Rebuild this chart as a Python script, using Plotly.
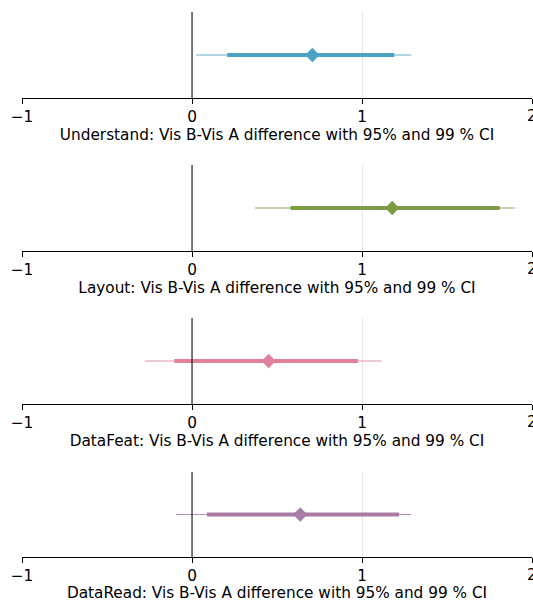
import plotly.graph_objects as go

measures = ["Understand", "Layout", "DataFeat", "DataRead"]
means = [0.708, 1.178, 0.451, 0.637]
ci95_low = [0.207, 0.58, -0.104, 0.088]
ci95_high = [1.19, 1.81, 0.976, 1.218]
ci99_low = [0.024, 0.37, -0.276, -0.094]
ci99_high = [1.29, 1.90, 1.116, 1.288]
colors = ["#4ba3c3", "#7e9c45", "#e0809a", "#a97ba7"]
tick_vals = [-1, 0, 1, 2]
tick_text = ["\u22121", "0", "1", "2"]

W, H = 533, 602
panel_px = [(12, 98), (165, 251), (318, 404), (472, 557)]
FS = 15.3

fig = go.Figure()
for i, m in enumerate(measures):
    n = i + 1
    xa = "x" if n == 1 else f"x{n}"
    ya = "y" if n == 1 else f"y{n}"
    fig.add_trace(go.Scatter(x=[ci99_low[i], ci99_high[i]], y=[0, 0], mode="lines",
                             line=dict(color=colors[i], width=1.1), opacity=0.85,
                             xaxis=xa, yaxis=ya, showlegend=False))
    fig.add_trace(go.Scatter(x=[ci95_low[i], ci95_high[i]], y=[0, 0], mode="lines",
                             line=dict(color=colors[i], width=4),
                             xaxis=xa, yaxis=ya, showlegend=False))
    fig.add_trace(go.Scatter(x=[means[i]], y=[0], mode="markers",
                             marker=dict(symbol="diamond", size=11, color=colors[i]),
                             xaxis=xa, yaxis=ya, showlegend=False))
    top, bot = panel_px[i]
    dom = [1 - bot / H, 1 - top / H]
    xkey = "xaxis" if n == 1 else f"xaxis{n}"
    ykey = "yaxis" if n == 1 else f"yaxis{n}"
    fig.update_layout({
        xkey: dict(domain=[0, 1], anchor=ya, range=[-1, 2], tickvals=tick_vals,
                   ticktext=tick_text, ticks="outside", ticklen=5, tickcolor="black",
                   tickwidth=1, showline=True, linecolor="black", linewidth=1,
                   showgrid=True, gridcolor="#e6e6e6", gridwidth=1, zeroline=False,
                   tickfont=dict(family="DejaVu Sans", size=FS, color="black"),
                   title=dict(text=f"{m}: Vis B-Vis A difference with 95% and 99 % CI",
                              font=dict(family="DejaVu Sans", size=FS, color="black"),
                              standoff=2)),
        ykey: dict(domain=dom, anchor=xa, range=[-1, 1], showticklabels=False,
                   showgrid=False, zeroline=False, showline=False, ticks=""),
    })
    fig.add_shape(type="line", xref=xa, yref=f"{ya} domain", x0=0, x1=0, y0=0, y1=1,
                  line=dict(color="black", width=1))
    # tick label at the right edge (partially cut off in the original)
    fig.add_annotation(x=tick_vals[-1], y=0, xref=xa, yref=f"{ya} domain",
                       text=tick_text[-1], showarrow=False, yanchor="top", yshift=-7,
                       font=dict(family="DejaVu Sans", size=FS, color="black"))

fig.update_layout(width=W, height=H, margin=dict(l=22, r=1, t=0, b=0),
                  plot_bgcolor="white", paper_bgcolor="white",
                  font=dict(family="DejaVu Sans"))
fig.write_html("out.html")
